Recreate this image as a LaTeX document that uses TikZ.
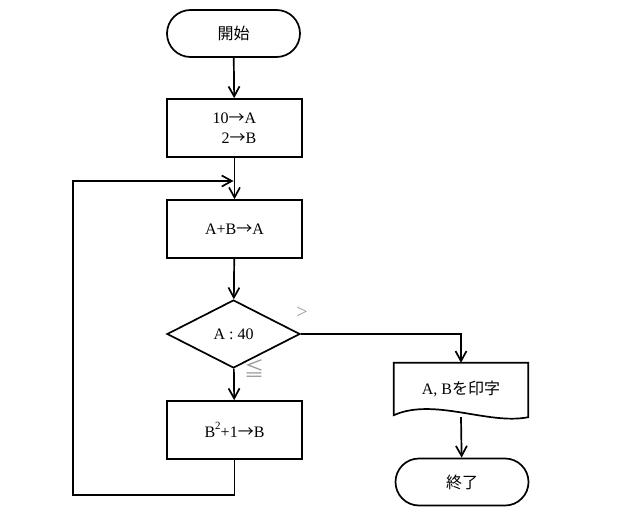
\documentclass[tikz,border=0pt]{standalone}
\usepackage{fontspec}
\setmainfont{Liberation Serif}
\newfontfamily\cjk{Noto Sans CJK JP}
\newcommand{\ar}{{\cjk →}}
\usetikzlibrary{shapes.geometric,shapes.misc,arrows.meta}
\begin{document}
\begin{tikzpicture}[x=1pt,y=-1pt,
  every node/.style={font=\fontsize{16}{20}\selectfont},
  term/.style={draw,rounded rectangle,minimum width=133pt,minimum height=47pt,inner sep=0pt,line width=1.7pt},
  proc/.style={draw,rectangle,minimum width=135pt,minimum height=58pt,inner sep=0pt,line width=1.7pt},
  dec/.style={draw,diamond,aspect=1.96,minimum width=133pt,minimum height=68pt,inner sep=0pt,line width=1.7pt},
  doc/.style={rectangle,minimum width=134pt,minimum height=52pt,inner sep=0pt},
  arr/.style={-{Straight Barb[length=10pt,width=11pt,line width=1.7pt]},line width=1.7pt},
  ln/.style={line width=1.7pt},
  lbl/.style={text=gray!80,font=\fontsize{20}{22}\selectfont}]
\useasboundingbox (0,0) rectangle (637,511);
\node[term] (start) at (233.5,33.5) {\cjk 開始};
\node[proc,align=right] (b1) at (234.5,128) {10\ar A\\ 2\ar B};
\node[proc] (b2) at (234.5,229) {A+B\ar A};
\node[dec] (d) at (233.5,334) {A : 40};
\node[proc] (b3) at (234.5,430) {B\raisebox{1.1ex}{\fontsize{11}{11}\selectfont 2}+1\ar B};
\node[doc] (pr) at (461,389) {A, B{\cjk を印字}};
\node[term] (end) at (462,482) {\cjk 終了};
% document shape outline
\draw[ln] (pr.south west) -- (pr.north west) -- (pr.north east) -- ([yshift=-2pt]pr.south east)
  .. controls ([xshift=-40pt,yshift=-10pt]pr.south east) and ([xshift=40pt,yshift=18pt]pr.south west) .. (pr.south west) -- cycle;
\coordinate (j) at (233.5,181);
\coordinate (bl) at (73,495);
\draw[arr] (start) -- (b1);
\draw[arr] (b1) -- (b2);
\draw[arr] (b2) -- (d);
\draw[arr] (d) -- (b3);
\draw[arr] (b3.south) |- (bl) |- (j);
\draw[arr] (d.east) -| (pr.north);
\draw[arr] ([yshift=-2pt]pr.south) -- (end);
\node[lbl] (gt) at (302,313) {>};
\node[lbl] (le) at (254,368) {\cjk ≦};
\end{tikzpicture}
\end{document}
